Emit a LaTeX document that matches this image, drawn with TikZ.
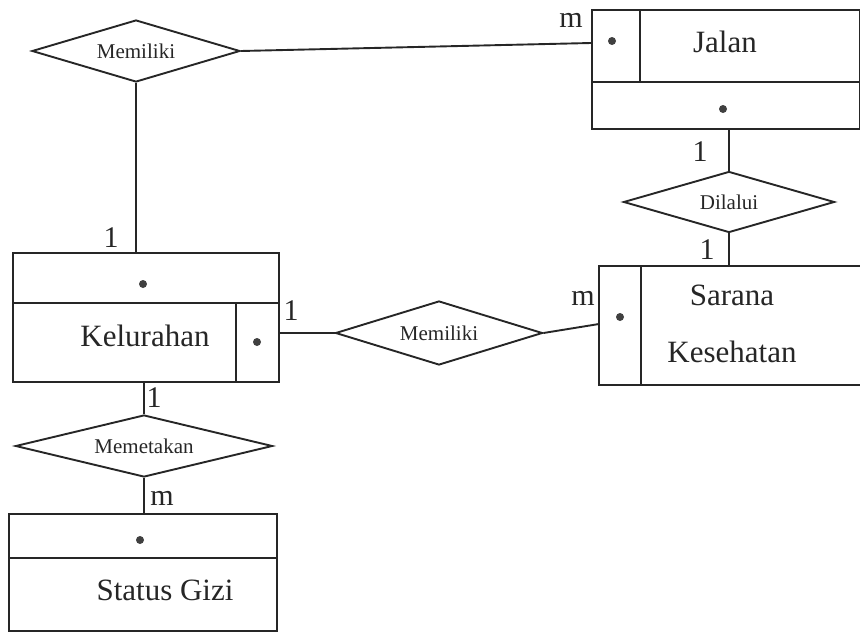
\documentclass[tikz,border=0pt]{standalone}
\usepackage{fontspec}
\setmainfont{Liberation Serif}
\usetikzlibrary{shapes.geometric,calc}
\begin{document}
\begin{tikzpicture}[x=1pt,y=-1pt,
 ln/.style={line width=1.9pt, draw=black!85},
 ent/.style={rectangle, draw=black!85, line width=1.9pt, inner sep=0pt, anchor=north west},
 rel/.style={diamond, draw=black!85, line width=1.9pt, inner sep=0pt, aspect=3.4, font=\fontsize{21}{24}\selectfont, text=black!85},
 etxt/.style={font=\fontsize{31}{34}\selectfont, inner sep=0pt, text=black!85},
 card/.style={font=\fontsize{30}{32}\selectfont, inner sep=0pt, text=black!85},
 dotn/.style={circle, fill=black!75, inner sep=0pt, minimum size=8pt}]
\useasboundingbox (0,0) rectangle (860,632);

% entities
\node[ent, minimum width=268pt, minimum height=119pt] (jl) at (591,9) {};
\draw[ln] ($(jl.north west)+(0,73)$) -- ($(jl.north east)+(0,73)$);
\draw[ln] ($(jl.north west)+(49,0)$) -- ($(jl.north west)+(49,73)$);
\node[dotn] (jld1) at (612,41) {};
\node[dotn] (jld2) at (723,109) {};
\node[etxt] (jlt) at (725,42) {Jalan};

\node[ent, draw=none, minimum width=261pt, minimum height=117pt] (sk) at (599,266) {};
\draw[ln] (sk.north east) -- (sk.north west) -- (sk.south west) -- (sk.south east);
\draw[ln] ($(sk.north west)+(42,0)$) -- ($(sk.south west)+(42,0)$);
\node[dotn] (skd) at (620,317) {};
\node[etxt] (skt1) at (732,295) {Sarana};
\node[etxt] (skt2) at (732,352) {Kesehatan};

\node[ent, minimum width=266pt, minimum height=129pt] (kl) at (12,252) {};
\draw[ln] ($(kl.north west)+(0,51)$) -- ($(kl.north east)+(0,51)$);
\draw[ln] ($(kl.north west)+(224,51)$) -- ($(kl.south west)+(224,0)$);
\node[dotn] (kld1) at (143,284) {};
\node[dotn] (kld2) at (257,342) {};
\node[etxt] (klt) at (145,336) {Kelurahan};

\node[ent, minimum width=268pt, minimum height=117pt] (st) at (8,513) {};
\draw[ln] ($(st.north west)+(0,45)$) -- ($(st.north east)+(0,45)$);
\node[dotn] (std) at (140,540) {};
\node[etxt] (stt) at (165,590) {Status Gizi};

% relationships
\node[rel, minimum width=208pt, minimum height=62pt] (m1) at (136,51) {Memiliki};
\node[rel, minimum width=211pt, minimum height=61pt] (dl) at (729,202) {Dilalui};
\node[rel, minimum width=207pt, minimum height=64pt] (m2) at (439,333) {Memiliki};
\node[rel, minimum width=257pt, minimum height=62pt] (mt) at (144,446) {Memetakan};

% connectors
\draw[ln] (m1.east) -- ($(jl.north west)+(0,34)$);
\draw[ln] (m1.south) -- (m1.south |- kl.north);
\draw[ln] (m2.west -| kl.east) -- (m2.west);
\draw[ln] (m2.east) -- ($(sk.north west)+(0,58)$);
\draw[ln] (dl.north |- jl.south) -- (dl.north);
\draw[ln] (dl.south) -- (dl.south |- sk.north);
\draw[ln] (mt.north |- kl.south) -- (mt.north);
\draw[ln] (mt.south) -- (mt.south |- st.north);

% cardinalities
\node[card] (c1) at (571,20) {m};
\node[card] (c2) at (111,238) {1};
\node[card] (c3) at (291,311) {1};
\node[card] (c4) at (583,298) {m};
\node[card] (c5) at (700,152) {1};
\node[card] (c6) at (707,250) {1};
\node[card] (c7) at (154,398) {1};
\node[card] (c8) at (162,498) {m};
\end{tikzpicture}
\end{document}
